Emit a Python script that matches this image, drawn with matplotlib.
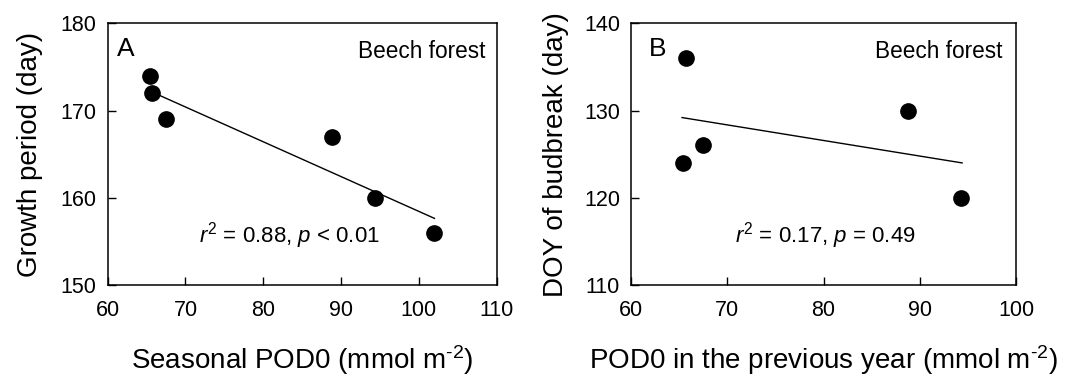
import matplotlib
matplotlib.use("Agg")
import matplotlib.pyplot as plt

plt.rcParams['font.family'] = ['Liberation Sans', 'DejaVu Sans']
plt.rcParams['mathtext.fontset'] = 'custom'
plt.rcParams['mathtext.rm'] = 'Liberation Sans'
plt.rcParams['mathtext.it'] = 'Liberation Sans:italic'
plt.rcParams['mathtext.default'] = 'regular'

# Panel A data
pod_a = [65.45, 65.75, 67.5, 88.8, 94.3, 101.9]
growth_a = [174, 172, 169, 167, 160, 156]
fit_a_x = [66.1, 102.0]
fit_a_y = [171.97, 157.64]

# Panel B data
pod_b = [65.4, 65.7, 67.5, 88.75, 94.3]
doy_b = [124, 136, 126, 130, 120]
fit_b_x = [65.3, 94.4]
fit_b_y = [129.2, 124.0]

xticks_a = [60, 70, 80, 90, 100, 110]
yticks_a = [150, 160, 170, 180]
xticks_b = [60, 70, 80, 90, 100]
yticks_b = [110, 120, 130, 140]

fig = plt.figure(figsize=(10.65, 3.77), dpi=100)
axA = fig.add_axes([0.1011, 0.244, 0.3653, 0.694])
axB = fig.add_axes([0.5925, 0.244, 0.3615, 0.694])

tick_fs = 15.5
lab_fs = 20

def style(ax):
    for s in ax.spines.values():
        s.set_linewidth(1.1)
    ax.tick_params(direction='in', length=5.5, width=1.0, labelsize=tick_fs)
    ax.tick_params(axis='x', pad=10.5)
    ax.tick_params(axis='y', pad=8)

sup = 'm$^{\\text{-}2}$'

# Panel A
axA.plot(fit_a_x, fit_a_y, color='black', lw=1.0)
axA.plot(pod_a, growth_a, 'o', color='black', ms=11)
axA.set_xlim(60, 110)
axA.set_ylim(150, 180)
axA.set_xticks(xticks_a)
axA.set_yticks(yticks_a)
style(axA)
axA.set_xlabel('Seasonal POD0 (mmol ' + sup + ')', fontsize=lab_fs, labelpad=16)
axA.set_ylabel('Growth period (day)', fontsize=lab_fs, labelpad=13)
axA.text(0.024, 0.948, 'A', transform=axA.transAxes, fontsize=19, va='top', ha='left')
axA.text(0.970, 0.935, 'Beech forest', transform=axA.transAxes, fontsize=16.3, va='top', ha='right')
axA.text(0.467, 0.162, '$\\mathit{r}^2$ = 0.88, $\\mathit{p}$ < 0.01', transform=axA.transAxes,
         fontsize=16, va='baseline', ha='center')

# Panel B
axB.plot(fit_b_x, fit_b_y, color='black', lw=1.0)
axB.plot(pod_b, doy_b, 'o', color='black', ms=11)
axB.set_xlim(60, 100)
axB.set_ylim(110, 140)
axB.set_xticks(xticks_b)
axB.set_yticks(yticks_b)
style(axB)
axB.set_xlabel('POD0 in the previous year (mmol ' + sup + ')', fontsize=lab_fs, labelpad=16)
axB.set_ylabel('DOY of budbreak (day)', fontsize=lab_fs, labelpad=11)
axB.text(0.0475, 0.948, 'B', transform=axB.transAxes, fontsize=19, va='top', ha='left')
axB.text(0.9655, 0.935, 'Beech forest', transform=axB.transAxes, fontsize=16.3, va='top', ha='right')
axB.text(0.506, 0.162, '$\\mathit{r}^2$ = 0.17, $\\mathit{p}$ = 0.49', transform=axB.transAxes,
         fontsize=16, va='baseline', ha='center')

fig.savefig('out.png', dpi=100)
